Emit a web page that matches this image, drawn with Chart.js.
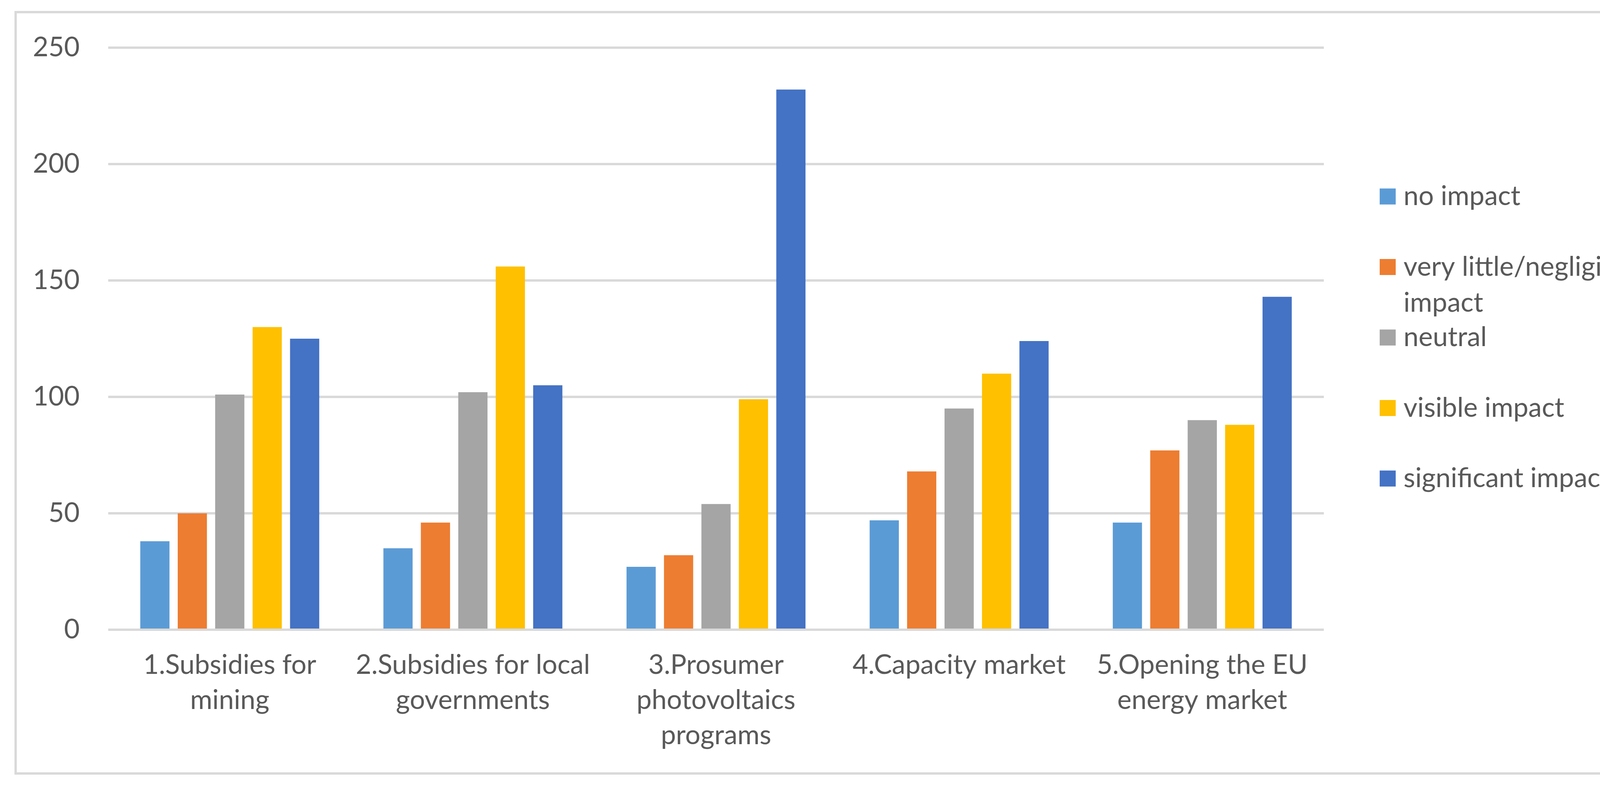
<!DOCTYPE html>
<html>
<head>
<meta charset="utf-8">
<script src="https://cdn.jsdelivr.net/npm/chart.js@4.4.1/dist/chart.umd.min.js"></script>
<style>
  html, body { margin: 0; padding: 0; background: #ffffff; }
  canvas { display: block; }
</style>
</head>
<body>
<canvas id="c" width="4338" height="2030"></canvas>
<script>
// ---- data ----
const categories = [
  ["1.Subsidies for", "mining"],
  ["2.Subsidies for local", "governments"],
  ["3.Prosumer", "photovoltaics", "programs"],
  "4.Capacity market",
  ["5.Opening the EU", "energy market"]
];
const seriesNames = [
  ["no impact"],
  ["very little/negligible", "impact"],
  ["neutral"],
  ["visible impact"],
  ["significant impact"]
];
const noImpact          = [38, 35, 27, 47, 46];
const veryLittleImpact  = [50, 46, 32, 68, 77];
const neutral           = [101, 102, 54, 95, 90];
const visibleImpact     = [130, 156, 99, 110, 88];
const significantImpact = [125, 105, 232, 124, 143];
const yTicks = [0, 50, 100, 150, 200, 250];

const colors = ["#5B9BD5", "#ED7D31", "#A5A5A5", "#FFC000", "#4472C4"];
const seriesValues = [noImpact, veryLittleImpact, neutral, visibleImpact, significantImpact];

const FONT = "Lato";
const TEXT = "#595959";
const GRID = "#D9D9D9";

const frame = {
  id: "frame",
  beforeDraw(chart) {
    const ctx = chart.ctx;
    ctx.save();
    ctx.fillStyle = "#ffffff";
    ctx.fillRect(0, 0, chart.width, chart.height);
    ctx.strokeStyle = GRID;
    ctx.lineWidth = 6;
    ctx.strokeRect(40, 31, 4254, 1949);
    ctx.restore();
  }
};

const sideLegend = {
  id: "sideLegend",
  afterDraw(chart, args, opts) {
    const ctx = chart.ctx;
    ctx.save();
    ctx.font = opts.fontSize + "px " + FONT;
    ctx.textBaseline = "middle";
    ctx.textAlign = "left";
    chart.data.datasets.forEach((ds, i) => {
      const cy = opts.firstY + i * opts.step;
      ctx.fillStyle = ds.backgroundColor;
      ctx.fillRect(opts.x, cy - opts.box / 2, opts.box, opts.box);
      ctx.fillStyle = TEXT;
      const lines = Array.isArray(ds.label) ? ds.label : [ds.label];
      lines.forEach((ln, j) => {
        ctx.fillText(ln, opts.x + opts.box + opts.gap, cy + j * opts.lineHeight);
      });
    });
    ctx.restore();
  }
};

new Chart(document.getElementById("c"), {
  type: "bar",
  data: {
    labels: categories,
    datasets: seriesValues.map((vals, i) => ({
      label: seriesNames[i],
      data: vals,
      backgroundColor: colors[i],
      borderWidth: 0,
      categoryPercentage: 0.77,
      barPercentage: 0.78
    }))
  },
  options: {
    responsive: false,
    animation: false,
    devicePixelRatio: 1,
    layout: { padding: { left: 0, top: 122, right: 949, bottom: 0 } },
    plugins: {
      legend: { display: false },
      tooltip: { enabled: false },
      title: { display: false },
      sideLegend: { x: 3532, box: 41, gap: 20, firstY: 503, step: 180.5, lineHeight: 92, fontSize: 69 }
    },
    scales: {
      x: {
        grid: { display: false, drawTicks: false },
        border: { display: false },
        ticks: {
          color: TEXT,
          font: { family: FONT, size: 69, lineHeight: 1.3 },
          padding: 46,
          maxRotation: 0,
          minRotation: 0,
          autoSkip: false
        },
        afterFit(scale) { scale.height = 418; }
      },
      y: {
        min: 0,
        max: 250,
        afterBuildTicks(scale) { scale.ticks = yTicks.map(v => ({ value: v })); },
        grid: { color: GRID, lineWidth: 6, drawTicks: false },
        border: { display: false },
        ticks: {
          color: TEXT,
          font: { family: FONT, size: 69 },
          padding: 73
        },
        afterFit(scale) { scale.width = 277; }
      }
    }
  },
  plugins: [frame, sideLegend]
});
</script>
</body>
</html>
